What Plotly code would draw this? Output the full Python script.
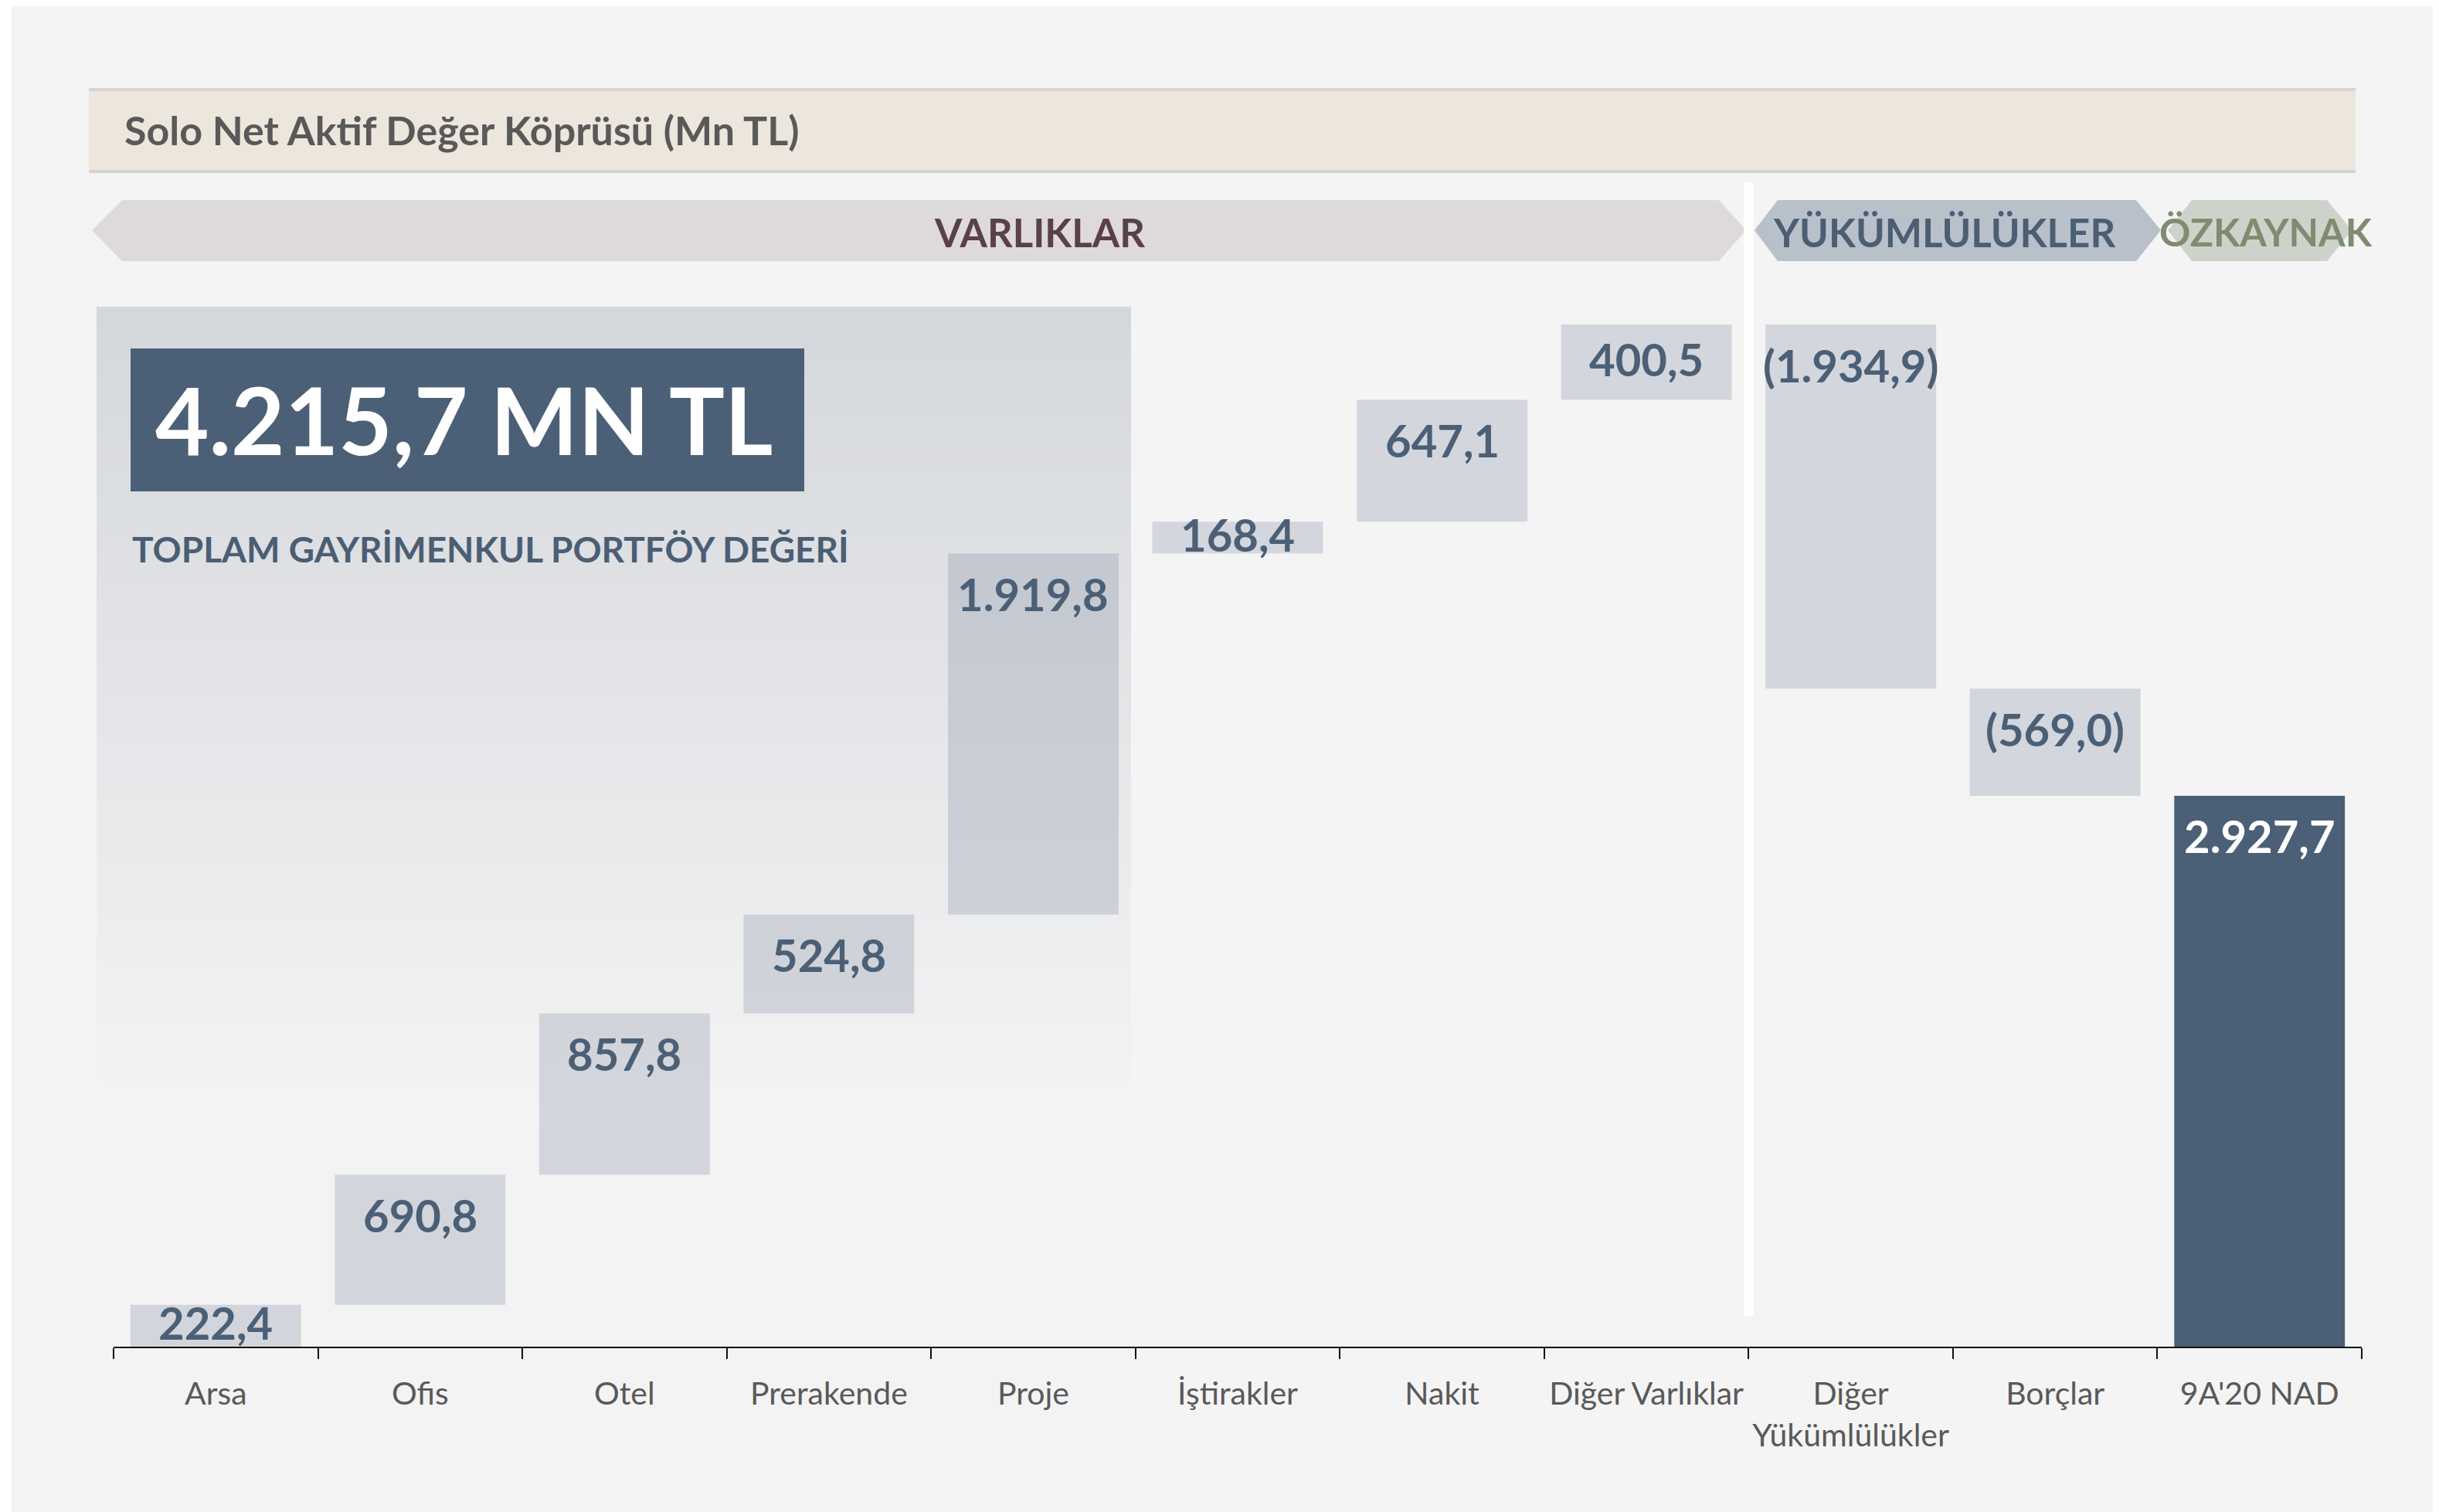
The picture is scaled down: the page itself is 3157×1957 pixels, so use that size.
import numpy as np
import plotly.graph_objects as go

# Solo Net Aktif Değer Köprüsü (Mn TL)
categories = ["Arsa", "Ofis", "Otel", "Prerakende", "Proje", "İştirakler", "Nakit",
              "Diğer Varlıklar", "Diğer Yükümlülükler", "Borçlar", "9A'20 NAD"]
tick_labels = ["Arsa", "Ofis", "Otel", "Prerakende", "Proje", "İştirakler", "Nakit",
               "Diğer Varlıklar", "Diğer<br>Yükümlülükler", "Borçlar", "9A'20 NAD"]
values = [222.4, 690.8, 857.8, 524.8, 1919.8, 168.4, 647.1, 400.5, -1934.9, -569.0, 2927.7]
measures = ["relative"] * 10 + ["total"]

portfolio_text = "4.215,7 MN TL"
portfolio_caption = "TOPLAM GAYRİMENKUL PORTFÖY DEĞERİ"
title_text = "Solo Net Aktif Değer Köprüsü (Mn TL)"
sections = ["VARLIKLAR", "YÜKÜMLÜLÜKLER", "ÖZKAYNAK"]

W, H = 3157, 1957
OFF = 8  # page margin of the browser
FONT = "Lato"
SLATE = "#4b6076"
Y_MAX = 5600
PX_PER_UNIT = (1743 - 379) / Y_MAX


def X(px):
    return (px - OFF) / W


def Y(py):
    return 1 - (py - OFF) / H


def tr(v):
    s = f"{abs(v):,.1f}".replace(",", "#").replace(".", ",").replace("#", ".")
    return f"({s})" if v < 0 else s


# top of every bar (where the label sits)
tops = []
run = 0.0
for v, m in zip(values, measures):
    if m == "total":
        tops.append(run)
    else:
        tops.append(max(run, run + v))
        run += v

fig = go.Figure()

fig.add_trace(go.Waterfall(
    x=tick_labels, y=values, measure=measures,
    increasing=dict(marker=dict(color="rgba(137,147,164,0.3)")),
    decreasing=dict(marker=dict(color="rgba(137,147,164,0.3)")),
    totals=dict(marker=dict(color=SLATE)),
    connector=dict(visible=False),
    textinfo="none", hoverinfo="skip", showlegend=False,
))

shapes = []
# thin white strip on the left
shapes.append(dict(type="rect", xref="paper", yref="paper", x0=0, x1=X(15), y0=0, y1=1,
                   fillcolor="white", line_width=0, layer="below"))

# title band
shapes.append(dict(type="rect", xref="paper", yref="paper", x0=X(115), x1=X(3049),
                   y0=Y(224), y1=Y(115), fillcolor="#ece6dc", line_width=0, layer="below"))
for yy in (116, 222):
    shapes.append(dict(type="line", xref="paper", yref="paper", x0=X(115), x1=X(3049),
                       y0=Y(yy), y1=Y(yy), line=dict(color="#d6d2d6", width=4), layer="below"))


def poly(pts, color):
    path = "M " + " L ".join(f"{X(a):.5f},{Y(b):.5f}" for a, b in pts) + " Z"
    return dict(type="path", xref="paper", yref="paper", path=path,
                fillcolor=color, line_width=0, layer="below")


shapes.append(poly([(158, 259), (2225, 259), (2260, 298), (2225, 338), (158, 338), (119, 298)], "#dedada"))
shapes.append(poly([(2301, 259), (2765, 259), (2797, 298), (2765, 338), (2301, 338), (2271, 298)], "#b8c0ca"))
shapes.append(poly([(2837, 259), (3012, 259), (3044, 298), (3012, 338), (2837, 338), (2806, 298)], "#cdd3cb"))

# gradient panel behind the real estate bars
top_px, fade_px, bot_px = 397, 1460, 1830
c0, c1 = np.array([212, 215, 220]), np.array([244, 244, 244])
n = 70
edges = np.linspace(top_px, fade_px, n + 1)
for i in range(n):
    t = i / (n - 1)
    c = (c0 + (c1 - c0) * t).round().astype(int)
    shapes.append(dict(type="rect", xref="paper", yref="paper", x0=X(125), x1=X(1464),
                       y0=Y(edges[i + 1] + 1), y1=Y(edges[i]),
                       fillcolor=f"rgb({c[0]},{c[1]},{c[2]})", line_width=0, layer="below"))
shapes.append(dict(type="rect", xref="paper", yref="paper", x0=X(125), x1=X(1464),
                   y0=Y(bot_px), y1=Y(fade_px), fillcolor="#f3f3f3", line_width=0, layer="below"))

# dark box with the portfolio value
shapes.append(dict(type="rect", xref="paper", yref="paper", x0=X(169), x1=X(1041),
                   y0=Y(636), y1=Y(451), fillcolor=SLATE, line_width=0, layer="below"))

# white divider between assets and liabilities
shapes.append(dict(type="line", xref="x", yref="paper", x0=7.5, x1=7.5,
                   y0=Y(1703), y1=Y(236), line=dict(color="white", width=12), layer="above"))


def note(text, x, y, size, color, xanchor="center"):
    return dict(text=f"<b>{text}</b>", x=X(x), y=Y(y), xref="paper", yref="paper",
                xanchor=xanchor, yanchor="middle", showarrow=False,
                font=dict(family=FONT, size=size, color=color))


annotations = [
    note(title_text, 159, 168, 52, "#595959", "left"),
    note(sections[0], 1345, 300, 51, "#5a4049"),
    note(sections[1], 2516, 300, 51, "#4b5e74"),
    note(sections[2], 2933, 300, 50, "#7f8c70"),
    note(portfolio_text, 600, 543, 120, "white"),
    note(portfolio_caption, 169, 710, 46, "#4b5e74", "left"),
]

for i, (v, m, top) in enumerate(zip(values, measures, tops)):
    bar_px = abs(v) * PX_PER_UNIT
    shift = min(52, bar_px / 2 - 4)
    annotations.append(dict(
        text=f"<b>{tr(v)}</b>", x=i, y=top, xref="x", yref="y",
        xanchor="center", yanchor="middle", yshift=-shift, showarrow=False,
        font=dict(family=FONT, size=58, color="white" if m == "total" else SLATE)))

fig.update_layout(
    width=W, height=H, autosize=False,
    margin=dict(l=0, r=0, t=0, b=0, autoexpand=False),
    paper_bgcolor="#f4f4f4", plot_bgcolor="rgba(0,0,0,0)",
    waterfallgap=0.165,
    shapes=shapes, annotations=annotations,
    font=dict(family=FONT, color="#595959"),
)
fig.update_xaxes(
    domain=[X(147), X(3057)], range=[-0.5, 10.5],
    showline=True, linecolor="#111111", linewidth=2,
    ticks="outside", tickson="boundaries", ticklen=14, tickwidth=2, tickcolor="#111111",
    ticklabelstandoff=24, tickangle=0, automargin=False,
    tickfont=dict(family=FONT, size=41, color="#595959"),
    showgrid=False, zeroline=False, fixedrange=True,
)
fig.update_yaxes(
    domain=[Y(1743), Y(379)], range=[0, Y_MAX],
    visible=False, showgrid=False, zeroline=False, automargin=False,
)

fig.write_html("out.html")
